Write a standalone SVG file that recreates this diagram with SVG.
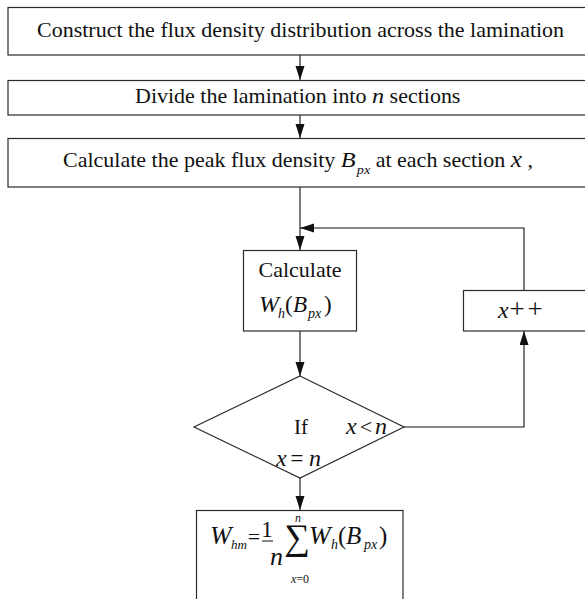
<svg xmlns="http://www.w3.org/2000/svg" width="585" height="599" viewBox="0 0 585 599">
<defs>
<style>
.box{fill:#fff;stroke:#2a2a2a;stroke-width:1.2}
.ln{fill:none;stroke:#111;stroke-width:1.1}
text{font-family:"Liberation Serif","Times New Roman",serif;fill:#111}
.t{font-size:20px}
.i{font-style:italic}
</style>
<marker id="ah" markerUnits="userSpaceOnUse" markerWidth="16" markerHeight="10" refX="14" refY="4.5" orient="auto">
<path d="M0,0 L14,4.5 L0,9 z" fill="#111"/>
</marker>
</defs>
<rect width="585" height="599" fill="#fff"/>

<g id="connectors">
<line class="ln" x1="300" y1="55" x2="300" y2="80" marker-end="url(#ah)"/>
<line class="ln" x1="300" y1="115" x2="300" y2="138" marker-end="url(#ah)"/>
<line class="ln" x1="300" y1="187" x2="300" y2="250" marker-end="url(#ah)"/>
<line class="ln" x1="300" y1="331" x2="300" y2="376" marker-end="url(#ah)"/>
<polyline class="ln" points="404,427 524,427 524,331" marker-end="url(#ah)"/>
<polyline class="ln" points="524,290 524,228 300,228" marker-end="url(#ah)"/>
<line class="ln" x1="300" y1="478" x2="300" y2="510" marker-end="url(#ah)"/>
</g>

<g id="node-construct">
<rect class="box" x="8" y="7.5" width="600" height="47.5"/>
<text class="t" transform="translate(37,37) scale(1.1,1)">Construct the flux density distribution across the lamination</text>
</g>

<g id="node-divide">
<rect class="box" x="8" y="80.5" width="600" height="34.5"/>
<text class="t" transform="translate(135,103) scale(1.1,1)">Divide the lamination into <tspan class="i" font-size="22">n</tspan> sections</text>
</g>

<g id="node-peak">
<rect class="box" x="8" y="138.5" width="600" height="48.5"/>
<text class="t" transform="translate(63,167) scale(1.1,1)">Calculate the peak flux density <tspan class="i" font-size="22">B</tspan><tspan class="i" font-size="13" dy="7" dx="1">px</tspan><tspan dy="-7"> at each section </tspan><tspan class="i" font-size="23">x</tspan> ,</text>
</g>

<g id="node-calc-wh">
<rect class="box" x="243.5" y="250.5" width="113" height="80.5"/>
<text class="t" transform="translate(300,277) scale(1.1,1)" text-anchor="middle" x="0">Calculate</text>
<text class="i" font-size="24" x="259" y="312">W</text>
<text class="i" font-size="14" x="278" y="318">h</text>
<text font-size="23" x="285" y="312">(</text>
<text class="i" font-size="23" x="293" y="312">B</text>
<text class="i" font-size="14" x="308" y="318">px</text>
<text font-size="23" x="324" y="312">)</text>
</g>

<g id="node-increment">
<rect class="box" x="463.5" y="290.5" width="140" height="40.5"/>
<text class="i" font-size="24" x="498" y="318">x</text>
<text font-size="27" x="517" y="318" text-anchor="middle">+</text>
<text font-size="27" x="535" y="318" text-anchor="middle">+</text>
</g>

<g id="node-decision">
<polygon class="box" points="300,376 404,427 300,478 194,427"/>
<text font-size="21" x="294" y="434">If</text>
<text class="i" font-size="24" x="346" y="434">x</text>
<text font-size="22" x="366" y="434" text-anchor="middle">&lt;</text>
<text class="i" font-size="24" x="375" y="434">n</text>
<text class="i" font-size="24" x="276" y="466">x</text>
<text font-size="23" x="297" y="466" text-anchor="middle">=</text>
<text class="i" font-size="24" x="309" y="466">n</text>
</g>

<g id="node-average">
<rect class="box" x="196.5" y="510.5" width="206.5" height="120"/>
<text class="i" font-size="26" x="210" y="544">W</text>
<text class="i" font-size="13" x="231" y="549">hm</text>
<text font-size="22" x="254" y="544" text-anchor="middle">=</text>
<text font-size="23" x="267" y="537" text-anchor="middle">1</text>
<line x1="262" y1="541" x2="273" y2="541" stroke="#111" stroke-width="1"/>
<text class="i" font-size="26" x="270" y="565">n</text>
<text font-size="36" x="297" y="549" text-anchor="middle">∑</text>
<text class="i" font-size="12" x="298" y="522" text-anchor="middle">n</text>
<text font-size="12" x="300" y="583" text-anchor="middle"><tspan class="i">x</tspan>=0</text>
<text class="i" font-size="26" x="309" y="544">W</text>
<text class="i" font-size="14" x="331" y="549">h</text>
<text font-size="25" x="338" y="544">(</text>
<text class="i" font-size="25" x="346" y="544">B</text>
<text class="i" font-size="14" x="364" y="549">px</text>
<text font-size="25" x="379" y="544">)</text>
</g>
</svg>
